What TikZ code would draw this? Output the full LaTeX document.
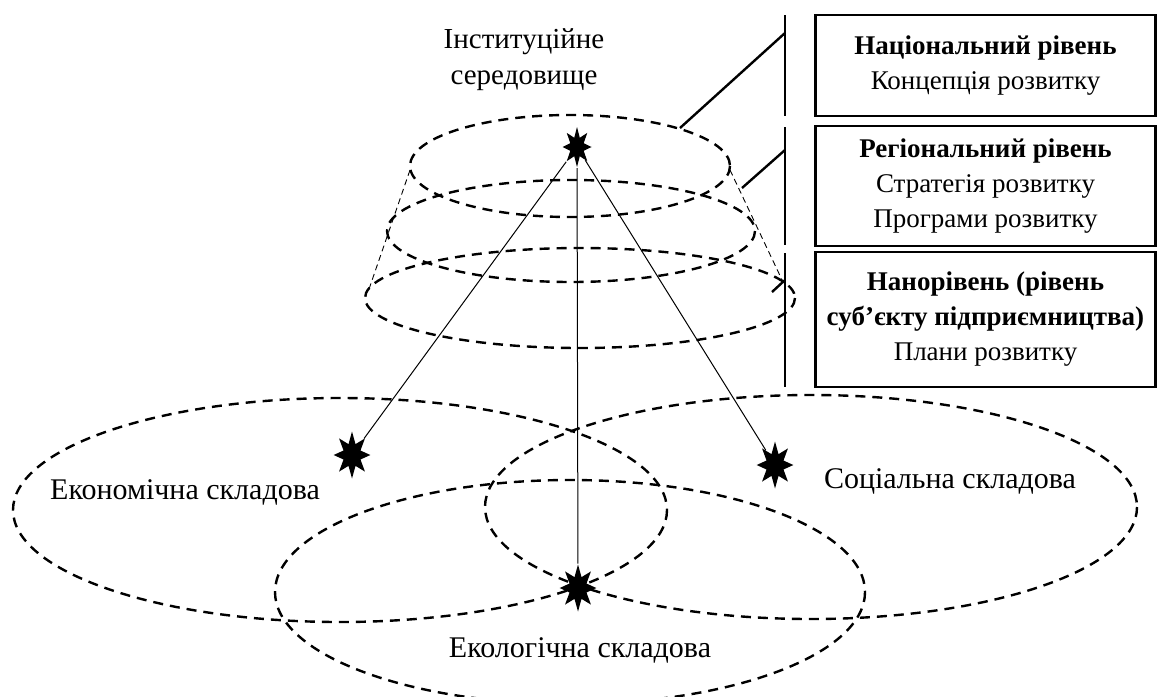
\documentclass[tikz,border=0pt]{standalone}
\usepackage{fontspec}
\setmainfont{Liberation Serif}
\usetikzlibrary{shapes.geometric}

\tikzset{
  bigdash/.style={line width=1.2pt, dash pattern=on 5pt off 3.5pt},
  thindash/.style={line width=0.45pt, dash pattern=on 3pt off 2pt},
  spark/.style={star, star points=8, star point ratio=2.0, fill=black,
    inner sep=0pt, minimum size=23.5pt, xscale=0.78},
  lvlbox/.style={draw, line width=1.2pt, minimum width=170pt, align=center,
    inner sep=0pt, font=\fontsize{13.5}{17.5}\selectfont},
  lbl/.style={align=center, font=\fontsize{15}{18}\selectfont}
}

\begin{document}
\begin{tikzpicture}[x=0.5pt,y=-0.5pt]
\useasboundingbox (0,0) rectangle (1159,696);
\clip (0,0) rectangle (1159,696);

% the three levels of the cone
\draw[bigdash] (570,166) ellipse [x radius=160, y radius=51];
\draw[bigdash] (571,231) ellipse [x radius=184, y radius=51];
\draw[bigdash] (580,298) ellipse [x radius=215, y radius=50];
\coordinate (c1) at (410,170); \coordinate (c2) at (368,292);
\coordinate (c3) at (730,170); \coordinate (c4) at (783,282);
\draw[thindash] (c1) -- (c2);
\draw[thindash] (c3) -- (c4);

% the three components
\draw[bigdash] (340,510) ellipse [x radius=327, y radius=112];
\draw[bigdash] (811,507) ellipse [x radius=326, y radius=112];
\draw[bigdash] (570,592) ellipse [x radius=295, y radius=112];

\node[lbl, font=\fontsize{14.5}{18}\selectfont] (inst) at (524,60) {Інституційне\\середовище};
\node[lbl] (econ) at (185,492) {Економічна складова};
\node[lbl] (soc) at (950,481) {Соціальна складова};
\node[lbl] (ecol) at (580,650) {Екологічна складова};

\node[spark, minimum size=20pt, xscale=0.93] (top) at (577,147) {};
\node[spark] (s1) at (352,455) {}; % economic
\node[spark] (s2) at (775,465) {}; % social
\node[spark] (s3) at (578,588) {}; % ecological

\draw[line width=0.5pt] (top) -- (s1);
\draw[line width=0.5pt] (top) -- (s3);
\draw[line width=0.5pt] (top) -- (s2);

% levels on the right
\node[lvlbox, minimum height=50.5pt] (nat) at (985.5,65.5)
  {\textbf{Національний рівень}\\Концепція розвитку};
\node[lvlbox, minimum height=60pt] (reg) at (985.5,186)
  {\textbf{Регіональний рівень}\\Стратегія розвитку\\Програми розвитку};
\node[lvlbox, minimum height=67.5pt] (nano) at (985.5,319.5)
  {\textbf{Нанорівень (рівень}\\\textbf{суб’єкту підприємництва)}\\Плани розвитку};

\coordinate (v1a) at (785,15);  \coordinate (v1b) at (785,116);
\coordinate (v2a) at (785,127); \coordinate (v2b) at (785,245);
\coordinate (v3a) at (785,253); \coordinate (v3b) at (785,387);
\draw[line width=1.2pt] (v1a) -- (v1b);
\draw[line width=1.2pt] (v2a) -- (v2b);
\draw[line width=1.2pt] (v3a) -- (v3b);

\coordinate (e1) at (680,128); \coordinate (f1) at (785,33);
\coordinate (e2) at (742,188); \coordinate (f2) at (785,150);
\coordinate (e3) at (772,292); \coordinate (f3) at (785,280);
\draw[line width=1.2pt] (e1) -- (f1);
\draw[line width=1.2pt] (e2) -- (f2);
\draw[line width=1.2pt] (e3) -- (f3);

\end{tikzpicture}
\end{document}
